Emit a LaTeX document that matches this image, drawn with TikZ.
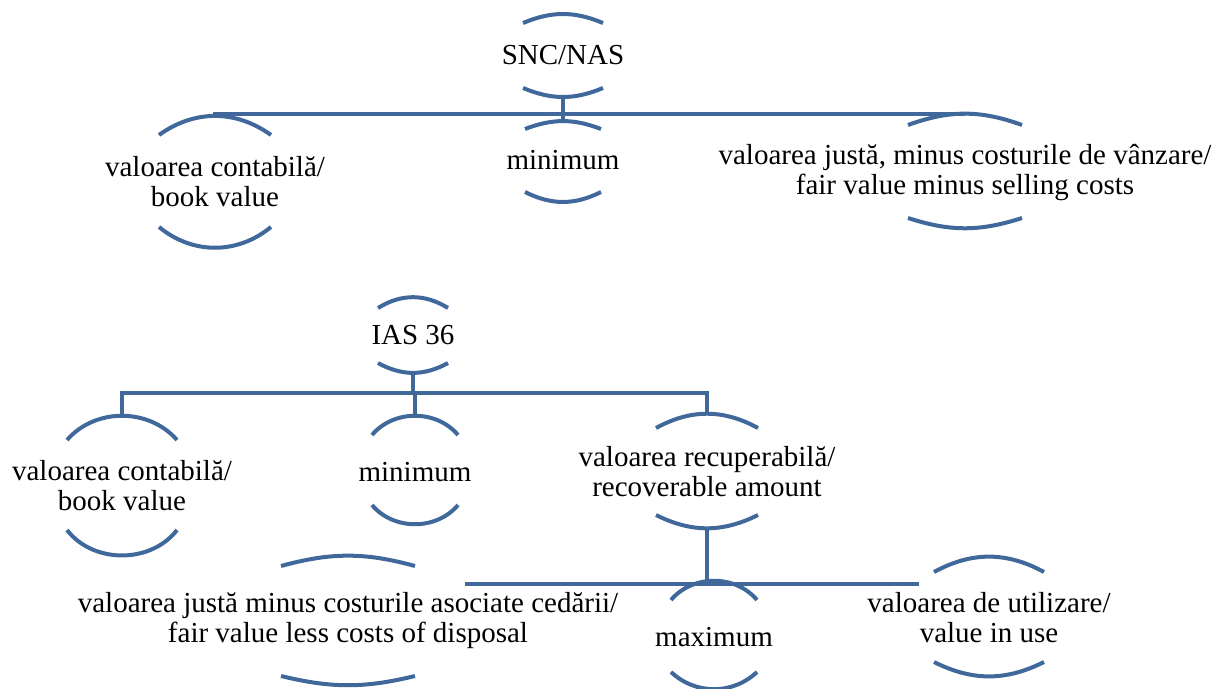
\documentclass[tikz,border=0pt]{standalone}
\usepackage{fontspec}
\setmainfont{Liberation Serif}
\usepackage{tikz}
\usetikzlibrary{positioning}
\definecolor{treeblue}{RGB}{64,104,155}

% arcs above and below a term: node, half width, top offset, top sag, bottom offset, bottom sag
\newcommand{\arcpair}[6]{%
  \pgfmathsetmacro\topbend{2*atan(#4/#2)}%
  \pgfmathsetmacro\botbend{2*atan(#6/#2)}%
  \draw[arcline] ([shift={(-#2,-#3)}]#1.center) to[bend left=\topbend] ([shift={(#2,-#3)}]#1.center);
  \draw[arcline] ([shift={(-#2,#5)}]#1.center) to[bend right=\botbend] ([shift={(#2,#5)}]#1.center);
  \coordinate (#1-t) at ([shift={(0,{-#3-#4})}]#1.center);
  \coordinate (#1-b) at ([shift={(0,{#5+#6})}]#1.center);
}

\begin{document}
\begin{tikzpicture}[x=1pt,y=-1pt,on grid]
    \tikzstyle{term}=[align=center,inner sep=0pt,font=\fontsize{29}{30}\selectfont]
    \tikzstyle{arcline}=[draw=treeblue,line width=4pt]
    \tikzstyle{link}=[draw=treeblue,line width=4.5pt]

    \useasboundingbox (0,0) rectangle (1217,688);

    % SNC/NAS
    \node[term] (snc) at (563,55) {SNC/NAS};
    \node[term, below=105pt of snc] (min1) {minimum};
    \node[term, below left=127pt and 348pt of snc] (vc1) {valoarea contabilă/\\book value};
    \node[term, below right=118pt and 402pt of snc] (vj1) {valoarea justă, minus costurile de vânzare/\\fair value minus selling costs};

    \arcpair{snc}{40}{32}{8}{33}{8}
    \arcpair{min1}{38}{31}{7}{32}{9}
    \arcpair{vc1}{56}{47}{18}{45}{20}
    \arcpair{vj1}{57}{48}{10}{45}{9}

    \coordinate (bus1) at ([shift={(0,18)}]snc-b);
    \draw[link] (snc-b) -- (bus1)
    (bus1) -| (vc1-t)
    (bus1) -| (vj1-t)
    (bus1) -| (min1-t);

    % IAS 36
    \node[term] (ias) at (413,335) {IAS 36};
    \node[term, below left=151pt and 291pt of ias] (vc2) {valoarea contabilă/\\book value};
    \node[term, below right=137pt and 2pt of ias] (min2) {minimum};
    \node[term, below right=137pt and 294pt of ias] (vr) {valoarea recuperabilă/\\recoverable amount};
    \node[term, below right=165pt and 7pt of vr] (max) {maximum};
    \node[term, below left=149pt and 359pt of vr] (vj2) {valoarea justă minus costurile asociate cedării/\\fair value less costs of disposal};
    \node[term, below right=146pt and 282pt of vr] (vu) {valoarea de utilizare/\\value in use};

    \arcpair{ias}{35}{27}{10}{28}{9}
    \arcpair{vc2}{55}{46}{25}{44}{27}
    \arcpair{min2}{43}{37}{20}{33}{20}
    \arcpair{vr}{51}{44}{13}{43}{12}
    \arcpair{max}{43}{37}{20}{35}{17}
    \arcpair{vj2}{67}{55}{9}{55}{8}
    \arcpair{vu}{55}{46}{14}{44}{13}

    \coordinate (bus2) at ([shift={(0,21)}]ias-b);
    \draw[link] (ias-b) -- (bus2)
    (bus2) -| (vc2-t)
    (bus2) -| (min2-t)
    (bus2) -| (vr-t);

    \coordinate (bus3) at ([shift={(0,57)}]vr-b);
    \coordinate (cut-l) at ([shift={(-242,0)}]bus3);
    \coordinate (cut-r) at ([shift={(212,0)}]bus3);
    \draw[link] (vr-b) -- (bus3)
    (bus3) -- (cut-l)
    (bus3) -- (cut-r);
\end{tikzpicture}
\end{document}
